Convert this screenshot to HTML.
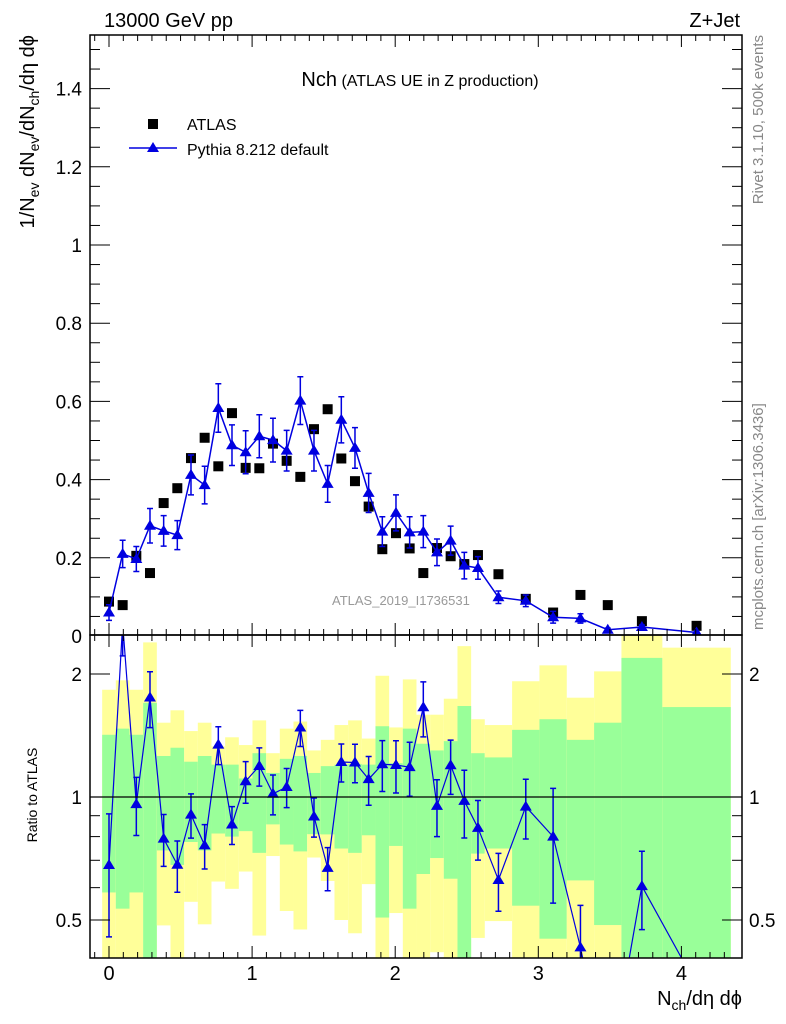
<!DOCTYPE html>
<html><head><meta charset="utf-8"><style>
html,body{margin:0;padding:0;background:#fff;overflow:hidden;width:786px;height:1024px;}
svg{display:block;font-family:"Liberation Sans",sans-serif;}
</style></head><body>
<svg id="chart" width="786" height="1024" viewBox="0 0 786 1024" xmlns="http://www.w3.org/2000/svg">
<defs>
<clipPath id="clipMain"><rect x="90" y="35" width="652" height="600"/></clipPath>
<clipPath id="clipRatio"><rect x="90" y="635" width="652" height="323"/></clipPath>
</defs>
<g id="bands" clip-path="url(#clipRatio)"></g>
<g id="marks"></g>
<g id="axes"></g>
<text x="104" y="27" font-size="20">13000 GeV pp</text>
<text x="740" y="27" font-size="20" text-anchor="end">Z+Jet</text>
<text x="420" y="86" text-anchor="middle"><tspan font-size="20">Nch</tspan><tspan font-size="16"> (ATLAS UE in Z production)</tspan></text>
<g>
<rect x="148" y="119" width="10" height="10" fill="#000"/>
<text x="187" y="130" font-size="16">ATLAS</text>
<line x1="129" y1="148" x2="177" y2="148" stroke="#0000e0" stroke-width="1.5"/>
<polygon points="153,142 159,152 147,152" fill="#0000e0"/>
<text x="187" y="155" font-size="16">Pythia 8.212 default</text>
</g>
<text x="332" y="605" font-size="13" fill="#999">ATLAS_2019_I1736531</text>
<text transform="translate(34,35) rotate(-90)" text-anchor="end" font-size="20">1/N<tspan font-size="14" dy="5">ev</tspan><tspan dy="-5"> dN</tspan><tspan font-size="14" dy="5">ev</tspan><tspan dy="-5">/dN</tspan><tspan font-size="14" dy="5">ch</tspan><tspan dy="-5">/dη dϕ</tspan></text>
<text transform="translate(37,795) rotate(-90)" text-anchor="middle" font-size="14">Ratio to ATLAS</text>
<text x="742" y="1005" text-anchor="end" font-size="20">N<tspan font-size="14" dy="5">ch</tspan><tspan dy="-5">/dη dϕ</tspan></text>
<text transform="translate(763,35) rotate(-90)" text-anchor="end" font-size="15" fill="#888">Rivet 3.1.10,  500k events</text>
<text transform="translate(763,630) rotate(-90)" text-anchor="start" font-size="15" fill="#888">mcplots.cern.ch [arXiv:1306.3436]</text>
</svg>
<script>
// bin edges (Nch/deta dphi)
const binEdges = [-0.0477,0.0477,0.1432,0.2387,0.3342,0.4297,0.5252,0.6207,0.7162,0.8117,0.9072,1.0027,1.0982,1.1937,1.2892,1.3847,1.4802,1.5757,1.6712,1.7667,1.8622,1.9577,2.0532,2.1487,2.2442,2.3397,2.4352,2.5307,2.626,2.817,3.008,3.199,3.390,3.581,3.867,4.345];
const atlasValues = [0.088,0.079,0.205,0.161,0.340,0.378,0.455,0.507,0.434,0.570,0.430,0.429,0.492,0.448,0.407,0.529,0.580,0.454,0.396,0.331,0.222,0.263,0.224,0.161,0.225,0.204,0.184,0.207,0.158,0.095,0.060,0.105,0.079,0.038,0.026];
const pythiaValues = [0.060,0.210,0.197,0.282,0.269,0.258,0.412,0.386,0.583,0.488,0.470,0.511,0.501,0.474,0.602,0.474,0.389,0.553,0.481,0.366,0.267,0.315,0.265,0.267,0.214,0.244,0.180,0.174,0.099,0.090,0.048,0.045,0.016,0.023,0.009];
const pythiaErrors = [0.020,0.035,0.032,0.044,0.039,0.037,0.051,0.048,0.062,0.052,0.055,0.055,0.056,0.052,0.061,0.052,0.047,0.059,0.052,0.050,0.038,0.046,0.040,0.041,0.034,0.037,0.034,0.029,0.016,0.015,0.015,0.012,0.004,0.005,0.001];
const yellowHi = [1.83,1.93,1.83,2.39,1.52,1.63,1.45,1.52,1.33,1.40,1.34,1.54,1.28,1.47,1.53,1.30,1.38,1.50,1.54,1.39,1.98,1.48,1.94,1.59,1.59,1.74,2.34,1.55,1.50,1.92,2.10,1.75,2.03,2.60,2.32];
const greenHi = [1.42,1.47,1.42,1.70,1.26,1.32,1.22,1.26,1.20,1.20,1.11,1.28,1.145,1.24,1.26,1.145,1.19,1.20,1.205,1.20,1.49,1.21,1.47,1.35,1.30,1.37,1.67,1.28,1.25,1.46,1.55,1.38,1.52,2.19,1.66];
const greenLo = [0.584,0.533,0.584,0.40,0.74,0.682,0.776,0.74,0.814,0.80,0.825,0.73,0.857,0.765,0.736,0.811,0.81,0.748,0.73,0.806,0.507,0.759,0.533,0.648,0.709,0.631,0.40,0.727,0.748,0.542,0.45,0.625,0.486,0.40,0.40];
const yellowLo = [0.40,0.40,0.40,0.40,0.485,0.40,0.554,0.488,0.621,0.596,0.657,0.458,0.717,0.526,0.474,0.711,0.623,0.50,0.464,0.612,0.40,0.520,0.40,0.40,0.417,0.40,0.40,0.452,0.497,0.40,0.40,0.40,0.40,0.40,0.40];
const xTickLabels = ["0","1","2","3","4"];
const yTickLabels = ["0","0.2","0.4","0.6","0.8","1","1.2","1.4"];
const ratioTickLabels = ["0.5","1","2"];

const NS="http://www.w3.org/2000/svg";
const X0=90,X1=742,MT=35,MB=635,RB=958;
const xS=v=>109+v*143.1;
const yM=v=>636-v*391;
const yR=r=>797-408.6*Math.log10(r);
const clampR=r=>Math.min(Math.max(r,0.39),2.6);
function mk(tag,attrs,parent){const e=document.createElementNS(NS,tag);for(const k in attrs)e.setAttribute(k,attrs[k]);parent.appendChild(e);return e;}
const bands=document.getElementById('bands'),marks=document.getElementById('marks'),axes=document.getElementById('axes');

for(let i=0;i<atlasValues.length;i++){
  const xa=xS(binEdges[i]),xb=xS(binEdges[i+1]);
  const yh=yR(clampR(yellowHi[i])),yl=yR(clampR(yellowLo[i]));
  const y1=mk('rect',{x:xa,y:yh,width:xb-xa,height:yl-yh,fill:'#ffff99'},bands);
  
  
  const gh=yR(clampR(greenHi[i])),gl=yR(clampR(greenLo[i]));
  const g1=mk('rect',{x:xa,y:gh,width:xb-xa,height:gl-gh,fill:'#99ff99'},bands);
  
  
}
const one=mk('line',{x1:X0,x2:X1,y1:yR(1),y2:yR(1),stroke:'#000','stroke-width':1.2},axes);



const centers=atlasValues.map((_,i)=>(binEdges[i]+binEdges[i+1])/2);
centers[0]=0;
function tri(cx,cy,parent,name){
  const p=mk('polygon',{points:`${cx},${cy-6} ${cx+6},${cy+4} ${cx-6},${cy+4}`,fill:'#0000e0'},parent);
  
  
}
function errbar(cx,ya,yb,parent){
  const e=mk('path',{d:`M${cx},${ya}V${yb}M${cx-3},${ya}H${cx+3}M${cx-3},${yb}H${cx+3}`,stroke:'#0000e0','stroke-width':1.5,fill:'none'},parent);
  
  
}
const gm=mk('g',{'clip-path':'url(#clipMain)'},marks);


atlasValues.forEach((v,i)=>{
  const r=mk('rect',{x:xS(centers[i])-5,y:yM(v)-5,width:10,height:10,fill:'#000'},gm);
  
  
});
const pl=mk('polyline',{points:pythiaValues.map((v,i)=>xS(centers[i])+','+yM(v)).join(' '),fill:'none',stroke:'#0000e0','stroke-width':1.5},gm);


pythiaValues.forEach((v,i)=>{
  errbar(xS(centers[i]),yM(v+pythiaErrors[i]),yM(Math.max(v-pythiaErrors[i],0)),gm);
  tri(xS(centers[i]),yM(v),gm,'pythia-point');
});
const gr=mk('g',{'clip-path':'url(#clipRatio)'},marks);


const ratios=pythiaValues.map((v,i)=>v/atlasValues[i]);
// clipped ratio line segments
let d='';
for(let i=0;i<ratios.length-1;i++){
  let xa=xS(centers[i]),ya=yR(ratios[i]),xb=xS(centers[i+1]),yb=yR(ratios[i+1]);
  let t0=0,t1=1;const dy=yb-ya;
  if(dy!==0){
    const tTop=(MB-ya)/dy,tBot=(RB-ya)/dy;
    t0=Math.max(t0,Math.min(tTop,tBot));t1=Math.min(t1,Math.max(tTop,tBot));
  } else if(ya<MB||ya>RB){continue;}
  if(t0>=t1)continue;
  const ax=xa+(xb-xa)*t0,ay=ya+dy*t0,bx=xa+(xb-xa)*t1,by=ya+dy*t1;
  d+=`M${ax.toFixed(2)},${ay.toFixed(2)}L${bx.toFixed(2)},${by.toFixed(2)}`;
}
const rl=mk('path',{d:d,fill:'none',stroke:'#0000e0','stroke-width':1.2},gr);


ratios.forEach((r,i)=>{
  const e=pythiaErrors[i]/atlasValues[i];
  if(r+e<0.40) return;
  errbar(xS(centers[i]),yR(clampR(r+e)),yR(clampR(r-e)),gr);
  if(r>0.37 && r<2.7) tri(xS(centers[i]),yR(r),gr,'ratio-point');
});

function ln(x1,y1,x2,y2,w){mk('line',{x1,y1,x2,y2,stroke:'#000','stroke-width':w||1},axes);}
const fr1=mk('rect',{x:X0,y:MT,width:X1-X0,height:MB-MT,fill:'none',stroke:'#000','stroke-width':1.5},axes);


const fr2=mk('rect',{x:X0,y:MB,width:X1-X0,height:RB-MB,fill:'none',stroke:'#000','stroke-width':1.5},axes);


for(let k=-1;k<=43;k++){
  const v=k/10,x=xS(v);if(x<X0||x>X1)continue;
  const L=(k%10===0)?12:6;
  ln(x,MB,x,MB-L);ln(x,MT,x,MT+L);ln(x,RB,x,RB-L);ln(x,MB,x,MB+L);
}
xTickLabels.forEach((t,i)=>{
  const el=mk('text',{x:xS(i),y:980,'font-size':20,'text-anchor':'middle'},axes);el.textContent=t;
  
  
});
for(let k=0;k<=30;k++){
  const v=k*0.05,y=yM(v);if(y<MT||y>MB)continue;
  const L=(k%4===0)?20:10;
  ln(X0,y,X0+L,y);ln(X1,y,X1-L,y);
}
yTickLabels.forEach((t,i)=>{
  const el=mk('text',{x:82,y:yM(i*0.2)+7,'font-size':19,'text-anchor':'end'},axes);el.textContent=t;
  
  
});
[0.5,1,2].forEach(r=>{ln(X0,yR(r),X0+20,yR(r));ln(X1,yR(r),X1-20,yR(r));});
[0.6,0.7,0.8,0.9].forEach(r=>{ln(X0,yR(r),X0+10,yR(r));ln(X1,yR(r),X1-10,yR(r));});
ratioTickLabels.forEach(t=>{
  const r=parseFloat(t);
  const a=mk('text',{x:82,y:yR(r)+7,'font-size':19,'text-anchor':'end'},axes);a.textContent=t;
  
  
  const b=mk('text',{x:749,y:yR(r)+7,'font-size':19},axes);b.textContent=t;
  
  
});
</script>
</body></html>
